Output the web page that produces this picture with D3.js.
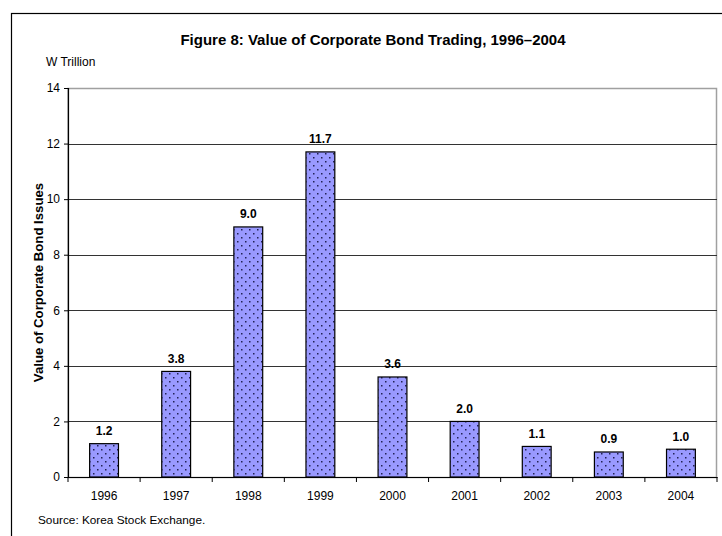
<!DOCTYPE html>
<html>
<head>
<meta charset="utf-8">
<script src="https://cdn.jsdelivr.net/npm/d3@7"></script>
<style>
  body { margin: 0; background: #fff; }
  svg { font-family: "Liberation Sans", Arial, sans-serif; }
</style>
</head>
<body>
<div id="chart"></div>
<script>
// data
var years = ["1996", "1997", "1998", "1999", "2000", "2001", "2002", "2003", "2004"];
var values = [1.2, 3.8, 9.0, 11.7, 3.6, 2.0, 1.1, 0.9, 1.0];
var yTicks = [0, 2, 4, 6, 8, 10, 12, 14];

var svgWidth = 722, svgHeight = 536;
var margin = { top: 88, right: 5, bottom: 59, left: 68 };
var width = svgWidth - margin.left - margin.right;
var height = svgHeight - margin.top - margin.bottom;

var svg = d3.select("#chart").append("svg")
  .attr("width", svgWidth)
  .attr("height", svgHeight);

// dotted fill like the old excel pattern
var defs = svg.append("defs");
var pat = defs.append("pattern")
  .attr("id", "dots")
  .attr("patternUnits", "userSpaceOnUse")
  .attr("width", 8).attr("height", 8);
pat.append("rect").attr("width", 8).attr("height", 8).attr("fill", "#9999ff");
pat.append("rect").attr("x", 1).attr("y", 1).attr("width", 1.5).attr("height", 1.5).attr("fill", "#222255");
pat.append("rect").attr("x", 5).attr("y", 5).attr("width", 1.5).attr("height", 1.5).attr("fill", "#222255");

// outer frame (runs off the right/bottom edge)
svg.append("rect")
  .attr("x", 11.5).attr("y", 13.5)
  .attr("width", 740).attr("height", 560)
  .attr("fill", "none")
  .attr("stroke", "#000")
  .attr("stroke-width", 1.2);

svg.append("text")
  .attr("x", 373).attr("y", 45)
  .attr("text-anchor", "middle")
  .attr("font-size", 15)
  .attr("font-weight", "bold")
  .text("Figure 8: Value of Corporate Bond Trading, 1996\u20132004");

svg.append("text")
  .attr("x", 46).attr("y", 66)
  .attr("font-size", 12)
  .text("W Trillion");

var chartGroup = svg.append("g")
  .attr("transform", `translate(${margin.left}, ${margin.top})`);

var xScale = d3.scaleBand()
  .domain(years)
  .range([0, width])
  .paddingInner(0.6)
  .paddingOuter(0.3);

var yScale = d3.scaleLinear()
  .domain([0, 14])
  .range([height, 0]);

// plot area border (gray top/right)
chartGroup.append("rect")
  .attr("x", 0).attr("y", 0.5)
  .attr("width", width - 0.5).attr("height", height)
  .attr("fill", "none")
  .attr("stroke", "#a0a0a0")
  .attr("stroke-width", 1.5);

// gridlines
chartGroup.selectAll(".grid")
  .data(yTicks.filter(d => d > 0 && d < 14))
  .enter()
  .append("line")
  .attr("x1", 0).attr("x2", width)
  .attr("y1", d => Math.round(yScale(d)) + 0.5)
  .attr("y2", d => Math.round(yScale(d)) + 0.5)
  .attr("stroke", "#333")
  .attr("stroke-width", 1);

// bars
chartGroup.selectAll(".bar")
  .data(values)
  .enter()
  .append("rect")
  .classed("bar", true)
  .attr("x", (d, i) => xScale(years[i]))
  .attr("y", d => yScale(d))
  .attr("width", xScale.bandwidth())
  .attr("height", d => height - yScale(d))
  .attr("fill", "url(#dots)")
  .attr("stroke", "#000")
  .attr("stroke-width", 1.2);

chartGroup.selectAll(".lbl")
  .data(values)
  .enter()
  .append("text")
  .attr("x", (d, i) => xScale(years[i]) + xScale.bandwidth() / 2)
  .attr("y", d => yScale(d) - 8.5)
  .attr("text-anchor", "middle")
  .attr("font-size", 12)
  .attr("font-weight", "bold")
  .text(d => d.toFixed(1));

// y axis
var leftAxis = d3.axisLeft(yScale).tickValues(yTicks).tickSize(4).tickPadding(4);
var yAxis = chartGroup.append("g").call(leftAxis);
yAxis.select(".domain").attr("stroke", "#000").attr("stroke-width", 1.2);
yAxis.selectAll("text").attr("font-size", 12).attr("fill", "#000")
  .attr("font-family", "Liberation Sans, Arial, sans-serif");

// x axis: ticks at category boundaries
var bottomAxis = d3.axisBottom(xScale).tickSize(0).tickPadding(14);
var xAxis = chartGroup.append("g")
  .attr("transform", `translate(0, ${height})`)
  .call(bottomAxis);
xAxis.select(".domain").attr("stroke", "#000").attr("stroke-width", 1.2);
xAxis.selectAll("text").attr("font-size", 12).attr("fill", "#000")
  .attr("font-family", "Liberation Sans, Arial, sans-serif");

chartGroup.selectAll(".xtick")
  .data(d3.range(years.length + 1))
  .enter()
  .append("line")
  .attr("x1", i => i * width / years.length)
  .attr("x2", i => i * width / years.length)
  .attr("y1", height).attr("y2", height + 5)
  .attr("stroke", "#000");

chartGroup.append("text")
  .attr("transform", "rotate(-90)")
  .attr("x", -height / 2)
  .attr("y", -25)
  .attr("text-anchor", "middle")
  .attr("font-size", 13.2)
  .attr("font-weight", "bold")
  .text("Value of Corporate Bond Issues");

svg.append("text")
  .attr("x", 38).attr("y", 524)
  .attr("font-size", 11.8)
  .text("Source: Korea Stock Exchange.");
</script>
</body>
</html>
